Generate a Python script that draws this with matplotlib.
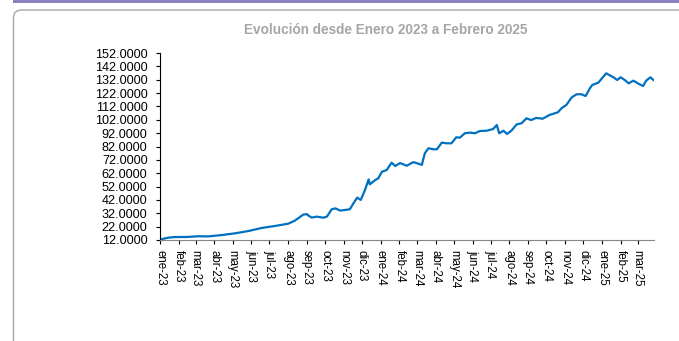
import matplotlib.pyplot as plt
from matplotlib.patches import FancyBboxPatch, Rectangle
from matplotlib.transforms import IdentityTransform
import numpy as np

plt.rcParams['font.family'] = ['Liberation Sans', 'DejaVu Sans']

# Serie (fecha, valor)
fechas = ['2023-01-01', '2023-01-14', '2023-01-25', '2023-02-16', '2023-03-05', '2023-03-22',
          '2023-04-13', '2023-05-05', '2023-05-27', '2023-06-18', '2023-07-10', '2023-08-01',
          '2023-08-12', '2023-08-26', '2023-09-01', '2023-09-03', '2023-09-09', '2023-09-17',
          '2023-09-28', '2023-10-04', '2023-10-12', '2023-10-18', '2023-10-26', '2023-11-03',
          '2023-11-11', '2023-11-17', '2023-11-23', '2023-11-29', '2023-12-06', '2023-12-12',
          '2023-12-14', '2023-12-23', '2023-12-28', '2024-01-03', '2024-01-11', '2024-01-19',
          '2024-01-25', '2024-02-02', '2024-02-13', '2024-02-24', '2024-03-03', '2024-03-09',
          '2024-03-14', '2024-03-20', '2024-03-28', '2024-04-03', '2024-04-11', '2024-04-19',
          '2024-04-27', '2024-05-05', '2024-05-11', '2024-05-19', '2024-05-28', '2024-06-05',
          '2024-06-13', '2024-06-24', '2024-07-05', '2024-07-11', '2024-07-15', '2024-07-22',
          '2024-07-28', '2024-08-04', '2024-08-13', '2024-08-21', '2024-08-29', '2024-09-06',
          '2024-09-14', '2024-09-25', '2024-10-06', '2024-10-20', '2024-10-26', '2024-11-03',
          '2024-11-12', '2024-11-20', '2024-11-28', '2024-12-05', '2024-12-12', '2024-12-16',
          '2024-12-26', '2025-01-01', '2025-01-08', '2025-01-15', '2025-01-20', '2025-01-26',
          '2025-02-01', '2025-02-09', '2025-02-14', '2025-02-22', '2025-03-03', '2025-03-10',
          '2025-03-15', '2025-03-22', '2025-03-27']
valores = [12.3, 13.7, 14.2, 14.3, 14.8, 14.7,
           15.7, 17.0, 18.7, 21.0, 22.5, 24.2,
           26.5, 31.0, 31.4, 30.4, 28.8, 29.5,
           28.7, 29.5, 35.0, 35.7, 34.0, 34.5,
           35.0, 39.5, 43.7, 42.0, 49.4, 57.4,
           53.7, 56.9, 58.2, 63.1, 64.4, 69.9,
           67.4, 69.6, 67.6, 70.3, 69.2, 68.2,
           76.9, 80.7, 79.9, 79.9, 84.9, 84.4,
           84.4, 88.9, 88.6, 91.9, 92.4, 91.9,
           93.6, 93.8, 95.1, 98.1, 91.9, 93.8,
           91.4, 93.8, 98.6, 99.4, 103.1, 101.8,
           103.4, 102.8, 105.6, 107.6, 110.6, 113.1,
           118.8, 121.1, 121.1, 119.8, 125.6, 128.1,
           129.8, 133.1, 136.8, 135.0, 133.8, 131.8,
           133.8, 131.3, 129.3, 131.3, 128.8, 127.3,
           131.3, 133.8, 131.8]

meses = ['ene-23', 'feb-23', 'mar-23', 'abr-23', 'may-23', 'jun-23', 'jul-23', 'ago-23',
         'sep-23', 'oct-23', 'nov-23', 'dic-23', 'ene-24', 'feb-24', 'mar-24', 'abr-24',
         'may-24', 'jun-24', 'jul-24', 'ago-24', 'sep-24', 'oct-24', 'nov-24', 'dic-24',
         'ene-25', 'feb-25', 'mar-25']

x = np.array(fechas, dtype='datetime64[D]')
y = np.array(valores)
ticks_x = np.arange(np.datetime64('2023-01'), np.datetime64('2025-04'), dtype='datetime64[M]').astype('datetime64[D]')

W, H = 679, 341
fig = plt.figure(figsize=(W / 100, H / 100), dpi=100)

# Franja superior y marco redondeado (en pixeles)
fig.add_artist(Rectangle((13, H - 3), W, 3, transform=IdentityTransform(),
                         facecolor='#8C7FC2', edgecolor='none'))
fig.add_artist(FancyBboxPatch((13.5, -20), 700, H - 10 + 20,
                              boxstyle='round,pad=0,rounding_size=8',
                              transform=IdentityTransform(), facecolor='none',
                              edgecolor='#a6a6a6', linewidth=1.0))

ax = fig.add_axes([160 / W, (H - 240) / H, (654 - 160) / W, (240 - 53) / H])
ax.plot(x, y, color='#0070C0', linewidth=1.6)

ax.set_ylim(12, 152)
ax.set_yticks(np.arange(12, 153, 10))
ax.yaxis.set_major_formatter(plt.FormatStrFormatter('%.4f'))
ax.set_xlim(np.datetime64('2023-01-01'), np.datetime64('2025-03-28'))
ax.set_xticks(ticks_x)
ax.set_xticklabels(meses, rotation=270)

ax.tick_params(axis='y', labelsize=9.1, length=3, width=0.8, pad=6)
ax.tick_params(axis='x', labelsize=8.3, length=3, width=0.8, pad=4)
ax.spines['top'].set_visible(False)
ax.spines['right'].set_visible(False)
ax.spines['left'].set_color('black')
ax.spines['bottom'].set_color('#868686')

fig.text(386 / W, 1 - 30 / H, 'Evolución desde Enero 2023 a Febrero 2025', ha='center', va='center',
         fontsize=9.8, fontweight='bold', color='#a6a6a6')

plt.savefig('out.png', dpi=100)
